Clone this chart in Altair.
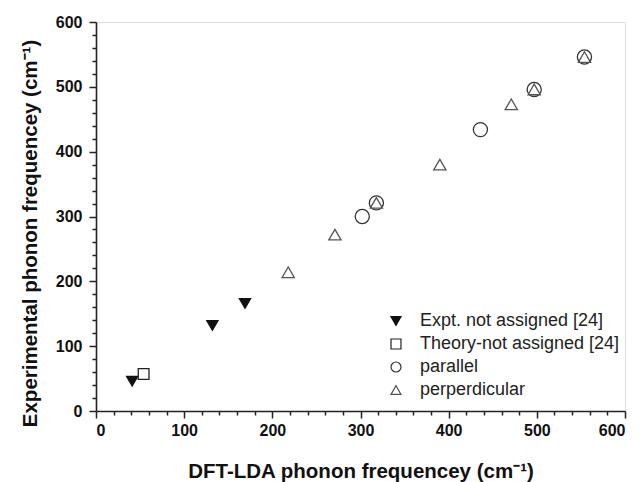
import altair as alt
import pandas as pd

series_names = ["Expt. not assigned [24]", "Theory-not assigned [24]", "parallel", "perperdicular"]

expt_x = [41, 132, 169]
expt_y = [46, 132, 166]
theory_x = [54]
theory_y = [57]
par_x = [302, 318, 436, 497, 554]
par_y = [300, 321, 434, 496, 546]
perp_x = [218, 271, 318, 390, 471, 497, 554]
perp_y = [214, 272, 321, 380, 473, 496, 546]

rows = []
for name, xs, ys in [
    (series_names[0], expt_x, expt_y),
    (series_names[1], theory_x, theory_y),
    (series_names[2], par_x, par_y),
    (series_names[3], perp_x, perp_y),
]:
    for a, b in zip(xs, ys):
        rows.append({"dft": a, "exp": b, "series": name})
df = pd.DataFrame(rows)

FONT = "Liberation Sans"
tick_vals = list(range(0, 601, 20))


def make_axis(title, label_pad, **title_pos):
    return alt.Axis(
        values=tick_vals,
        labelExpr="datum.value % 100 == 0 ? datum.label : ''",
        tickSize={"condition": {"test": "datum.value % 100 == 0", "value": 7}, "value": 4},
        grid=False,
        domainColor="#222",
        domainWidth=1.6,
        tickColor="#222",
        tickWidth=1.5,
        labelFont=FONT,
        labelFontSize=16,
        labelFontWeight="bold",
        labelColor="#111",
        labelPadding=label_pad,
        title=title,
        titleFont=FONT,
        titleFontSize=20.5,
        titleFontWeight="bold",
        titleColor="#111",
        titleBaseline="alphabetic",
        **title_pos,
    )


x_axis = make_axis("DFT-LDA phonon frequencey (cm⁻¹)", 4, titleY=66)
y_axis = make_axis("Experimental phonon frequencey (cm⁻¹)", 7, titleX=-60, titleY=211)

shape_scale = alt.Scale(domain=series_names, range=["triangle-down", "square", "circle", "triangle-up"])
fill_scale = alt.Scale(domain=series_names, range=["#111111", "transparent", "transparent", "transparent"])
stroke_scale = alt.Scale(domain=series_names, range=["#111111", "#222222", "#333333", "#555555"])

legend = alt.Legend(
    title=None,
    orient="none",
    legendX=291,
    legendY=290,
    labelFont=FONT,
    labelFontSize=18,
    labelColor="#222",
    labelOffset=15,
    labelLimit=0,
    symbolSize=100,
    symbolStrokeWidth=1.2,
    rowPadding=5,
    padding=0,
)

size_rule = (
    alt.when(alt.datum.series == series_names[2]).then(alt.value(200))
    .when(alt.datum.series == series_names[0]).then(alt.value(125))
    .when(alt.datum.series == series_names[1]).then(alt.value(115))
    .otherwise(alt.value(150))
)

chart = (
    alt.Chart(df)
    .mark_point(strokeWidth=1.3, opacity=1)
    .encode(
        x=alt.X("dft:Q", scale=alt.Scale(domain=[0, 600], nice=False), axis=x_axis),
        y=alt.Y("exp:Q", scale=alt.Scale(domain=[0, 600], nice=False), axis=y_axis),
        shape=alt.Shape("series:N", scale=shape_scale, legend=legend),
        fill=alt.Fill("series:N", scale=fill_scale, legend=legend),
        stroke=alt.Stroke("series:N", scale=stroke_scale, legend=legend),
        size=size_rule,
    )
    .properties(
        width=529,
        height=389,
        autosize=alt.AutoSizeParams(type="none"),
        padding={"left": 88, "top": 14, "right": 10, "bottom": 71},
    )
    .configure_view(stroke=None)
    .configure(background="white")
)

chart.save("out.html", embed_options={"renderer": "svg", "actions": False})
